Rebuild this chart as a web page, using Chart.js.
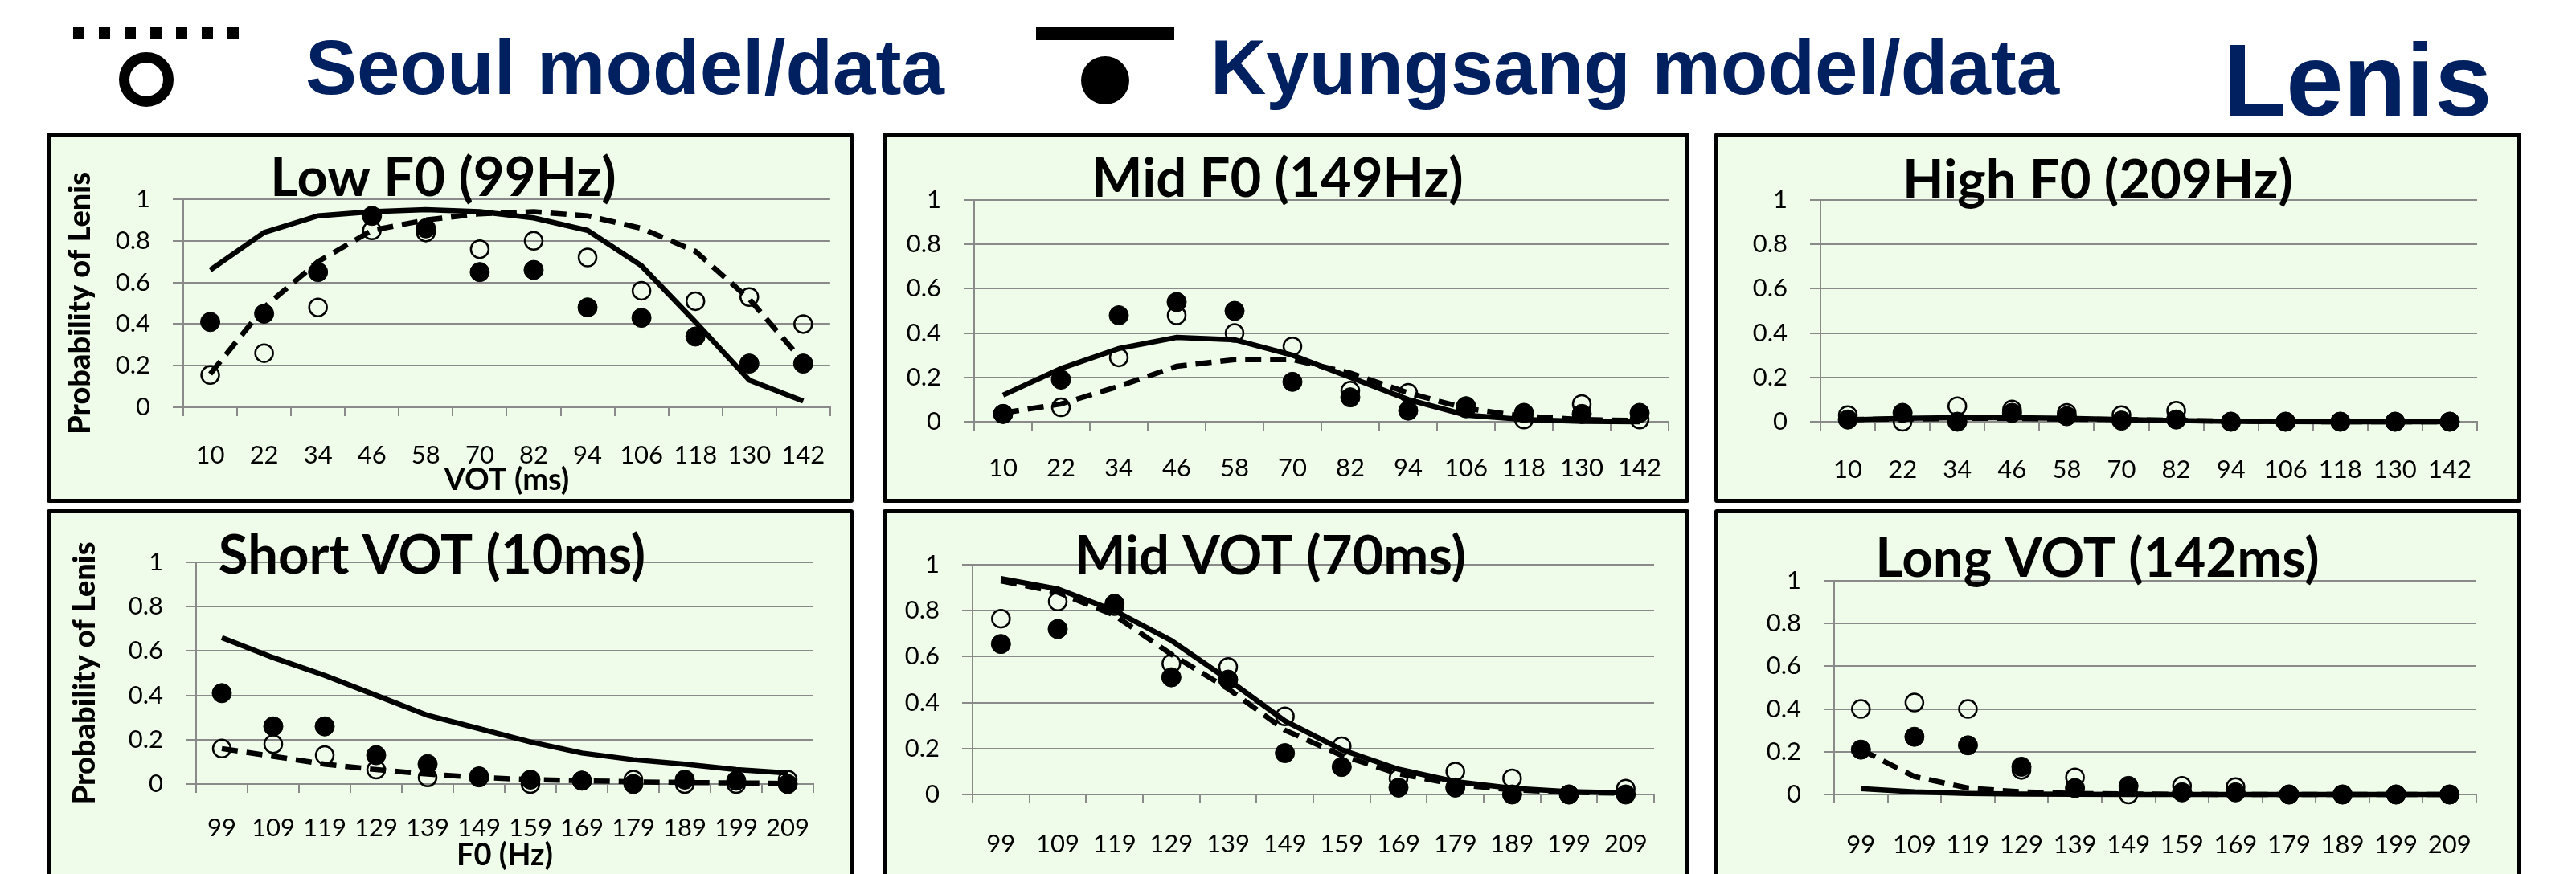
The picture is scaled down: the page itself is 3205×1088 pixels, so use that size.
<!DOCTYPE html>
<html lang="en">
<head>
  <meta charset="UTF-8">
  <title>Lenis — Seoul vs Kyungsang model/data</title>
  <script src="https://cdn.jsdelivr.net/npm/chart.js"></script>
  <style>
    html, body { margin: 0; padding: 0; }
    body {
      width: 3205px;
      height: 1088px;
      overflow: hidden;
      position: relative;
      background: #fff;
      font-family: 'Liberation Sans', Arial, sans-serif;
    }
    .hdr {
      position: absolute;
      color: #002060;
      font-weight: bold;
      line-height: 1;
      white-space: nowrap;
    }
    .dots {
      position: absolute; left: 91px; top: 33px; width: 206px; height: 16px;
      background: repeating-linear-gradient(to right, #000 0 14px, transparent 14px 32px);
    }
    .bar { position: absolute; left: 1289px; top: 34px; width: 172px; height: 16px; background: #000; }
    .ring {
      position: absolute; left: 148px; top: 65px; width: 42px; height: 42px;
      border: 13px solid #000; border-radius: 50%;
    }
    .dot { position: absolute; left: 1345px; top: 70px; width: 60px; height: 60px; border-radius: 50%; background: #000; }
    .panel {
      position: absolute;
      width: 994px;
      border: 5px solid #000;
      border-radius: 3px;
      background: #effce9;
    }
    .panel canvas { display: block; }
  </style>
</head>
<body>
  <div class="dots"></div>
  <div class="ring"></div>
  <div class="hdr" style="left:380px;top:36px;font-size:96px">Seoul model/data</div>
  <div class="bar"></div>
  <div class="dot"></div>
  <div class="hdr" style="left:1506px;top:36px;font-size:96px">Kyungsang model/data</div>
  <div class="hdr" style="left:2766px;top:36px;font-size:128px">Lenis</div>

  <div class="panel" style="left:58px;top:165px;height:451px"><canvas id="lowF0" width="994" height="451"></canvas></div>
  <div class="panel" style="left:1098px;top:165px;height:451px"><canvas id="midF0" width="994" height="451"></canvas></div>
  <div class="panel" style="left:2133px;top:165px;height:451px"><canvas id="highF0" width="994" height="451"></canvas></div>
  <div class="panel" style="left:58px;top:634px;height:460px"><canvas id="shortVot" width="994" height="460"></canvas></div>
  <div class="panel" style="left:1098px;top:634px;height:460px"><canvas id="midVot" width="994" height="460"></canvas></div>
  <div class="panel" style="left:2133px;top:634px;height:460px"><canvas id="longVot" width="994" height="460"></canvas></div>

  <script>
    // categories
    const votLabels = ['10', '22', '34', '46', '58', '70', '82', '94', '106', '118', '130', '142'];
    const f0Labels = ['99', '109', '119', '129', '139', '149', '159', '169', '179', '189', '199', '209'];

    // Low F0 (99Hz)
    const lowF0SeoulModel = [0.16, 0.48, 0.70, 0.85, 0.90, 0.93, 0.94, 0.92, 0.86, 0.75, 0.52, 0.22];
    const lowF0KyungModel = [0.66, 0.84, 0.92, 0.94, 0.95, 0.94, 0.91, 0.85, 0.68, 0.41, 0.13, 0.03];
    const lowF0SeoulData = [0.155, 0.26, 0.48, 0.85, 0.84, 0.76, 0.80, 0.72, 0.56, 0.51, 0.53, 0.40];
    const lowF0KyungData = [0.41, 0.45, 0.65, 0.92, 0.86, 0.65, 0.66, 0.48, 0.43, 0.34, 0.21, 0.21];

    // Mid F0 (149Hz)
    const midF0SeoulModel = [0.04, 0.08, 0.16, 0.25, 0.28, 0.28, 0.22, 0.13, 0.06, 0.025, 0.01, 0.005];
    const midF0KyungModel = [0.12, 0.24, 0.33, 0.38, 0.37, 0.30, 0.20, 0.10, 0.03, 0.01, 0.002, 0];
    const midF0SeoulData = [0.035, 0.065, 0.29, 0.48, 0.40, 0.34, 0.14, 0.13, 0.06, 0.01, 0.08, 0.01];
    const midF0KyungData = [0.035, 0.19, 0.48, 0.54, 0.50, 0.18, 0.11, 0.05, 0.07, 0.04, 0.035, 0.04];

    // High F0 (209Hz)
    const highF0SeoulModel = [0.01, 0.012, 0.015, 0.015, 0.012, 0.01, 0.006, 0.003, 0.001, 0, 0, 0];
    const highF0KyungModel = [0.008, 0.015, 0.018, 0.018, 0.015, 0.01, 0.005, 0.002, 0.001, 0, 0, 0];
    const highF0SeoulData = [0.03, 0, 0.07, 0.055, 0.04, 0.03, 0.05, 0, 0, 0, 0, 0];
    const highF0KyungData = [0.01, 0.04, 0, 0.04, 0.025, 0.005, 0.01, 0, 0, 0, 0, 0];

    // Short VOT (10ms)
    const shortVotSeoulModel = [0.16, 0.125, 0.09, 0.065, 0.045, 0.03, 0.02, 0.015, 0.01, 0.007, 0.005, 0.003];
    const shortVotKyungModel = [0.66, 0.57, 0.49, 0.40, 0.31, 0.25, 0.19, 0.14, 0.11, 0.09, 0.065, 0.05];
    const shortVotSeoulData = [0.16, 0.18, 0.13, 0.065, 0.03, 0.035, 0, 0.015, 0.02, 0, 0, 0.02];
    const shortVotKyungData = [0.41, 0.26, 0.26, 0.13, 0.09, 0.03, 0.02, 0.015, 0, 0.02, 0.015, 0];

    // Mid VOT (70ms)
    const midVotSeoulModel = [0.93, 0.88, 0.78, 0.61, 0.46, 0.28, 0.17, 0.09, 0.044, 0.02, 0.01, 0.005];
    const midVotKyungModel = [0.94, 0.895, 0.80, 0.67, 0.50, 0.32, 0.195, 0.11, 0.056, 0.027, 0.012, 0.007];
    const midVotSeoulData = [0.765, 0.84, 0.82, 0.57, 0.555, 0.34, 0.21, 0.07, 0.10, 0.07, 0, 0.025];
    const midVotKyungData = [0.655, 0.72, 0.83, 0.51, 0.50, 0.18, 0.12, 0.03, 0.03, 0, 0, 0];

    // Long VOT (142ms)
    const longVotSeoulModel = [0.21, 0.084, 0.03, 0.012, 0.005, 0.002, 0.001, 0, 0, 0, 0, 0];
    const longVotKyungModel = [0.027, 0.012, 0.005, 0.002, 0.001, 0, 0, 0, 0, 0, 0, 0];
    const longVotSeoulData = [0.40, 0.43, 0.40, 0.115, 0.08, 0, 0.04, 0.035, 0, 0, 0, 0];
    const longVotKyungData = [0.21, 0.27, 0.23, 0.13, 0.03, 0.04, 0.01, 0.01, 0, 0, 0, 0];

    const GRID = '#8a8a8a';
    const tickFont = { family: 'Lato, "Open Sans", sans-serif', size: 31 };
    const xTitleFont = { family: 'Lato, "Open Sans", sans-serif', size: 38, weight: 'bold', lineHeight: 1.2 };
    const yTitleFont = { family: 'Lato, "Open Sans", sans-serif', size: 38, weight: '900', lineHeight: 1.2 };

    function drawPanel(id, title, labels, seoulModel, kyungModel, seoulData, kyungData, g) {
      new Chart(document.getElementById(id), {
        type: 'line',
        data: {
          labels,
          datasets: [
            { label: 'Kyungsang data', data: kyungData, showLine: false, order: 0, clip: false,
              pointRadius: 12, pointBackgroundColor: '#000', pointBorderColor: '#000', pointBorderWidth: 1 },
            { label: 'Seoul data', data: seoulData, showLine: false, order: 1, clip: false,
              pointRadius: 11, pointBackgroundColor: 'rgba(0,0,0,0)', pointBorderColor: '#000', pointBorderWidth: 2.5 },
            { label: 'Kyungsang model', data: kyungModel, order: 2, clip: false,
              borderColor: '#000', borderWidth: 6.5, pointRadius: 0 },
            { label: 'Seoul model', data: seoulModel, order: 3, clip: false,
              borderColor: '#000', borderWidth: 6.5, borderDash: [20, 11], pointRadius: 0 }
          ]
        },
        options: {
          responsive: false,
          animation: false,
          events: [],
          layout: { padding: { left: 0, top: 0, bottom: 0, right: g.padRight } },
          plugins: {
            legend: { display: false },
            tooltip: { enabled: false },
            title: {
              display: true,
              text: title,
              color: '#000',
              font: { family: 'Lato, "Open Sans", sans-serif', size: 67, weight: 'bold', lineHeight: 1 },
              padding: { top: g.titleTop, bottom: g.titleBottom }
            }
          },
          scales: {
            x: {
              offset: true,
              grid: { offset: true, drawOnChartArea: false, drawTicks: true, tickLength: 11, color: GRID, lineWidth: 2 },
              border: { display: true, color: GRID, width: 2 },
              ticks: { color: '#000', font: tickFont, padding: g.xTickPad, maxRotation: 0, autoSkip: false },
              title: {
                display: !!g.xTitle,
                text: g.xTitle || '',
                color: '#000',
                font: xTitleFont,
                padding: { top: 0, bottom: g.xTitlePad || 0 }
              },
              afterFit: s => { s.height = g.xHeight; }
            },
            y: {
              min: 0,
              max: 1,
              ticks: {
                stepSize: 0.2,
                color: '#000',
                font: tickFont,
                padding: 28,
                callback: v => String(Math.round(v * 10) / 10)
              },
              grid: { color: GRID, lineWidth: 2, tickLength: 13, drawTicks: true },
              border: { display: true, color: GRID, width: 2 },
              title: {
                display: !!g.yTitle,
                text: g.yTitle || '',
                color: '#000',
                font: yTitleFont,
                padding: { top: g.yTitlePad || 0, bottom: 0 }
              },
              afterFit: s => { s.width = g.yWidth; }
            }
          }
        }
      });
    }

    const yTitle = 'Probability of Lenis';

    drawPanel('lowF0', 'Low F0 (99Hz)', votLabels, lowF0SeoulModel, lowF0KyungModel, lowF0SeoulData, lowF0KyungData,
      { padRight: 17, titleTop: 19, titleBottom: -8, yWidth: 165, xHeight: 114, xTickPad: 30,
        xTitle: 'VOT (ms)', xTitlePad: 0, yTitle, yTitlePad: 14 });
    drawPanel('midF0', 'Mid F0 (149Hz)', votLabels, midF0SeoulModel, midF0KyungModel, midF0SeoulData, midF0KyungData,
      { padRight: 21, titleTop: 20, titleBottom: -8, yWidth: 109, xHeight: 96, xTickPad: 28 });
    drawPanel('highF0', 'High F0 (209Hz)', votLabels, highF0SeoulModel, highF0KyungModel, highF0SeoulData, highF0KyungData,
      { padRight: 50, titleTop: 22, titleBottom: -10, yWidth: 127, xHeight: 96, xTickPad: 30 });
    drawPanel('shortVot', 'Short VOT (10ms)', f0Labels, shortVotSeoulModel, shortVotKyungModel, shortVotSeoulData, shortVotKyungData,
      { padRight: 45, titleTop: 20, titleBottom: -26, yWidth: 181, xHeight: 123, xTickPad: 25,
        xTitle: 'F0 (Hz)', xTitlePad: 11, yTitle, yTitlePad: 20 });
    drawPanel('midVot', 'Mid VOT (70ms)', f0Labels, midVotSeoulModel, midVotKyungModel, midVotSeoulData, midVotKyungData,
      { padRight: 39, titleTop: 21, titleBottom: -24, yWidth: 107, xHeight: 110, xTickPad: 32 });
    drawPanel('longVot', 'Long VOT (142ms)', f0Labels, longVotSeoulModel, longVotKyungModel, longVotSeoulData, longVotKyungData,
      { padRight: 51, titleTop: 24, titleBottom: -7, yWidth: 144, xHeight: 110, xTickPad: 33 });
  </script>
</body>
</html>
